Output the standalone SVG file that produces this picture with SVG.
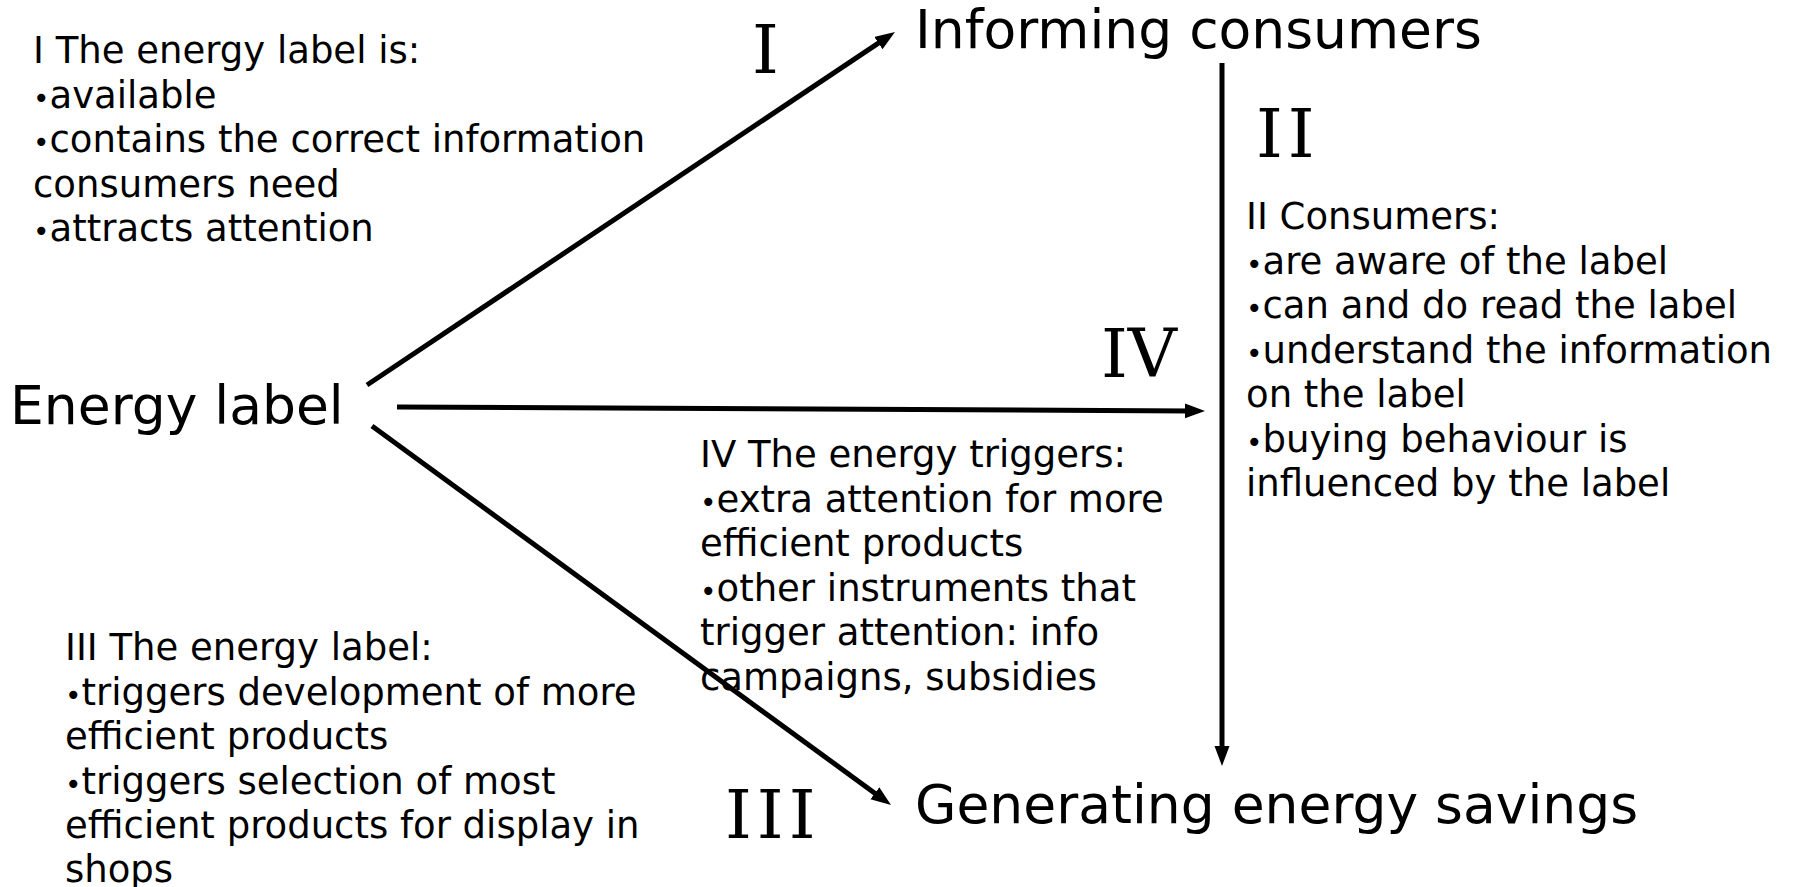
<svg xmlns="http://www.w3.org/2000/svg" width="1795" height="887" viewBox="0 0 1795 887">
<style>
.body{font-family:"DejaVu Sans","Verdana",sans-serif;font-size:37px;fill:#000}
.b{font-size:28px}
.big{font-family:"DejaVu Sans","Verdana",sans-serif;font-size:53.5px;fill:#000}
.num{font-family:"DejaVu Serif","Liberation Serif",serif;font-size:68px;fill:#000}
.sp{letter-spacing:5px}
.conn{stroke:#000;stroke-width:5;fill:none;marker-end:url(#ah)}
</style>
<defs>
<marker id="ah" markerUnits="userSpaceOnUse" markerWidth="22" markerHeight="16" refX="5" refY="7.5" orient="auto" viewBox="0 0 22 16">
<path d="M0,0 L20,7.5 L0,15 z" fill="#000"/>
</marker>
</defs>
<rect width="1795" height="887" fill="#fff"/>
<g id="connectors">
<line class="conn" x1="367" y1="385" x2="882.5" y2="40.3"/>
<line class="conn" x1="397" y1="407" x2="1190" y2="410.9"/>
<line class="conn" x1="1222" y1="63" x2="1222" y2="751"/>
<line class="conn" x1="372" y1="426" x2="878.9" y2="796.2"/>
</g>
<g id="energy-label"><text class="big" x="10" y="424">Energy label</text></g>
<g id="informing-consumers"><text class="big" x="915" y="48">Informing consumers</text></g>
<g id="generating-energy-savings"><text class="big" x="915" y="823">Generating energy savings</text></g>
<g id="num-I"><text class="num" x="752" y="73">I</text></g>
<g id="num-II"><text class="num sp" x="1256" y="157">II</text></g>
<g id="num-IV"><text class="num" x="1101" y="377">IV</text></g>
<g id="num-III"><text class="num sp" x="725" y="838">III</text></g>
<g id="text-I">
<text class="body"><tspan x="33" y="63">I The energy label is:</tspan><tspan x="33" y="107.5"><tspan class="b">•</tspan>available</tspan><tspan x="33" y="152"><tspan class="b">•</tspan>contains the correct information</tspan><tspan x="33" y="196.5">consumers need</tspan><tspan x="33" y="241"><tspan class="b">•</tspan>attracts attention</tspan></text>
</g>
<g id="text-II">
<text class="body"><tspan x="1246" y="229">II Consumers:</tspan><tspan x="1246" y="273.5"><tspan class="b">•</tspan>are aware of the label</tspan><tspan x="1246" y="318"><tspan class="b">•</tspan>can and do read the label</tspan><tspan x="1246" y="362.5"><tspan class="b">•</tspan>understand the information</tspan><tspan x="1246" y="407">on the label</tspan><tspan x="1246" y="451.5"><tspan class="b">•</tspan>buying behaviour is</tspan><tspan x="1246" y="496">influenced by the label</tspan></text>
</g>
<g id="text-IV">
<text class="body"><tspan x="700" y="467">IV The energy triggers:</tspan><tspan x="700" y="511.5"><tspan class="b">•</tspan>extra attention for more</tspan><tspan x="700" y="556">efficient products</tspan><tspan x="700" y="600.5"><tspan class="b">•</tspan>other instruments that</tspan><tspan x="700" y="645">trigger attention: info</tspan><tspan x="700" y="689.5">campaigns, subsidies</tspan></text>
</g>
<g id="text-III">
<text class="body"><tspan x="65" y="660">III The energy label:</tspan><tspan x="65" y="704.5"><tspan class="b">•</tspan>triggers development of more</tspan><tspan x="65" y="749">efficient products</tspan><tspan x="65" y="793.5"><tspan class="b">•</tspan>triggers selection of most</tspan><tspan x="65" y="838">efficient products for display in</tspan><tspan x="65" y="882">shops</tspan></text>
</g>
</svg>
